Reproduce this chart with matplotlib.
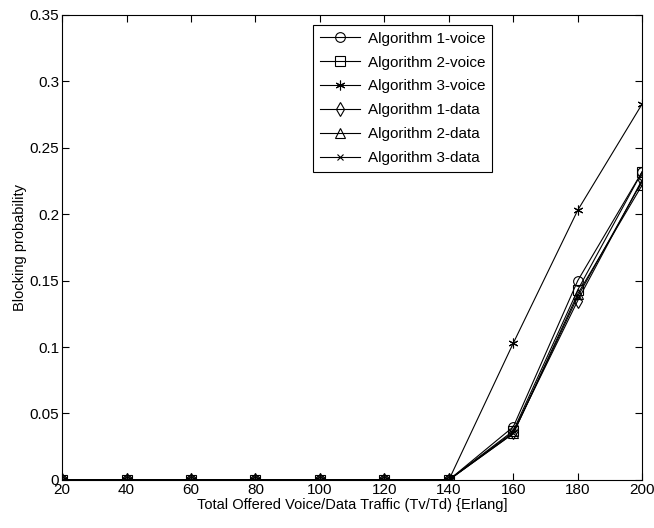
import matplotlib
matplotlib.use("Agg")
import matplotlib.pyplot as plt

plt.rcParams['font.family'] = ['Liberation Sans', 'DejaVu Sans']

traffic = [20, 40, 60, 80, 100, 120, 140, 160, 180, 200]

alg1_voice = [0, 0, 0, 0, 0, 0, 0, 0.040, 0.150, 0.232]
alg2_voice = [0, 0, 0, 0, 0, 0, 0, 0.037, 0.143, 0.232]
alg3_voice = [0, 0, 0, 0, 0, 0, 0, 0.103, 0.203, 0.283]
alg1_data = [0, 0, 0, 0, 0, 0, 0, 0.036, 0.135, 0.226]
alg2_data = [0, 0, 0, 0, 0, 0, 0, 0.035, 0.140, 0.222]
alg3_data = [0, 0, 0, 0, 0, 0, 0, 0.035, 0.138, 0.225]

labels = ['Algorithm 1-voice', 'Algorithm 2-voice', 'Algorithm 3-voice',
          'Algorithm 1-data', 'Algorithm 2-data', 'Algorithm 3-data']
series = [alg1_voice, alg2_voice, alg3_voice, alg1_data, alg2_data, alg3_data]
markers = ['o', 's', (6, 2, 0), 'd', '^', 'x']
sizes = [7, 7, 7, 7, 7, 4]

fig = plt.figure(figsize=(6.54, 5.28), dpi=100)
ax = fig.add_axes([0.095, 0.091, 0.887, 0.881])

for y, lbl, m, ms in zip(series, labels, markers, sizes):
    ax.plot(traffic, y, color='black', linewidth=0.8, marker=m,
            markersize=ms, markerfacecolor='none', markeredgecolor='black',
            markeredgewidth=0.8, label=lbl)

ax.set_xlim(20, 200)
ax.set_ylim(0, 0.35)
ax.set_xticks(traffic)
ax.set_yticks([0, 0.05, 0.1, 0.15, 0.2, 0.25, 0.3, 0.35])
ax.set_yticklabels(['0', '0.05', '0.1', '0.15', '0.2', '0.25', '0.3', '0.35'])
ax.tick_params(direction='in', top=True, right=True, labelsize=11, length=5, pad=2)
ax.set_xlabel('Total Offered Voice/Data Traffic (Tv/Td) {Erlang]', fontsize=10.5, labelpad=1)
ax.set_ylabel('Blocking probability', fontsize=10.5, labelpad=2)

leg = ax.legend(loc='upper left', bbox_to_anchor=(0.42, 0.995), fontsize=11,
                fancybox=False, edgecolor='black', framealpha=1,
                handlelength=2.6, handletextpad=0.5, labelspacing=0.65,
                borderpad=0.45)
leg.get_frame().set_linewidth(0.8)

fig.savefig('out.png', dpi=100)
